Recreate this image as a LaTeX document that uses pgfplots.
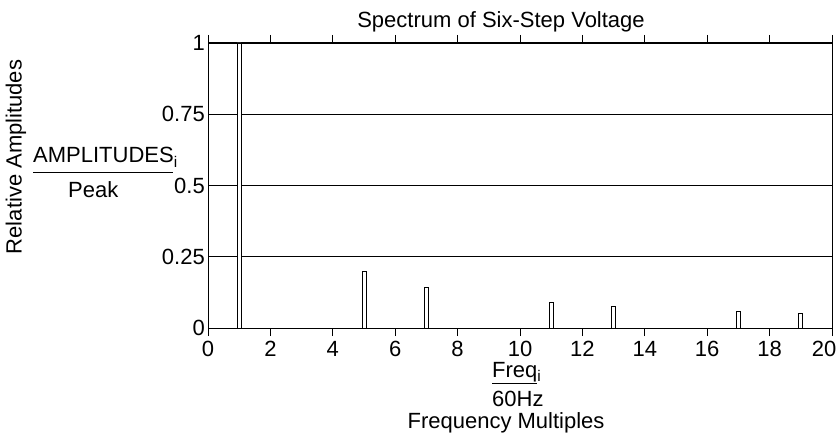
\documentclass[border=0pt]{standalone}
\usepackage{pgfplots}
\pgfplotsset{compat=1.18}
\usepackage{fontspec}
\setmainfont{Liberation Sans}
\newcommand{\lbl}{\fontsize{22}{26}\selectfont}
\begin{document}
\begin{tikzpicture}
\useasboundingbox (0,0) rectangle (837pt,-435pt);
\begin{axis}[
  at={(208pt,-328pt)}, anchor=south west,
  scale only axis, width=624pt, height=285pt,
  xmin=0, xmax=20, ymin=0, ymax=1,
  xtick={0,2,...,18}, ytick={0,0.25,0.5,0.75,1},
  extra x ticks={20},
  extra x tick style={xticklabel style={xshift=-8pt}},
  tick align=inside, major tick length=8pt,
  ytick style={draw=none},
  xtick style={black, line width=0.8pt},
  ymajorgrids, grid style={black, line width=0.8pt},
  axis line style={line width=1pt},
  ticklabel style={font=\lbl, /pgf/number format/assume math mode=true},
  xticklabel style={inner sep=0pt, yshift=-5pt},
  yticklabel style={inner sep=0pt, xshift=-3pt},
  ybar, bar width=4pt,
]
% relative amplitude of harmonic n ~ 1/n
\addplot[draw=black, fill=white, line width=0.8pt] coordinates {
  (1,1) (5,0.2) (7,0.1429) (11,0.0909) (13,0.0769) (17,0.0588) (19,0.0526)
};
\end{axis}
\node[font=\lbl, anchor=base] at (501pt,-28pt) {Spectrum of Six-Step Voltage};
\node[font=\lbl, rotate=90] at (16pt,-157pt) {Relative Amplitudes};
\node[font=\lbl, anchor=base west, inner sep=0pt] at (33pt,-163pt) {AMPLITUDES\textsubscript{i}};
\draw[line width=0.8pt] (33pt,-172pt) -- (173pt,-172pt);
\node[font=\lbl, anchor=base west, inner sep=0pt] at (68pt,-198pt) {Peak};
\node[font=\lbl, anchor=base west, inner sep=0pt] at (492pt,-377pt) {Freq\textsubscript{i}};
\draw[line width=0.8pt] (492pt,-383pt) -- (537pt,-383pt);
\node[font=\lbl, anchor=base west, inner sep=0pt] at (492pt,-406pt) {60Hz};
\node[font=\lbl, anchor=base, inner sep=0pt] at (506pt,-428pt) {Frequency Multiples};
\end{tikzpicture}
\end{document}
